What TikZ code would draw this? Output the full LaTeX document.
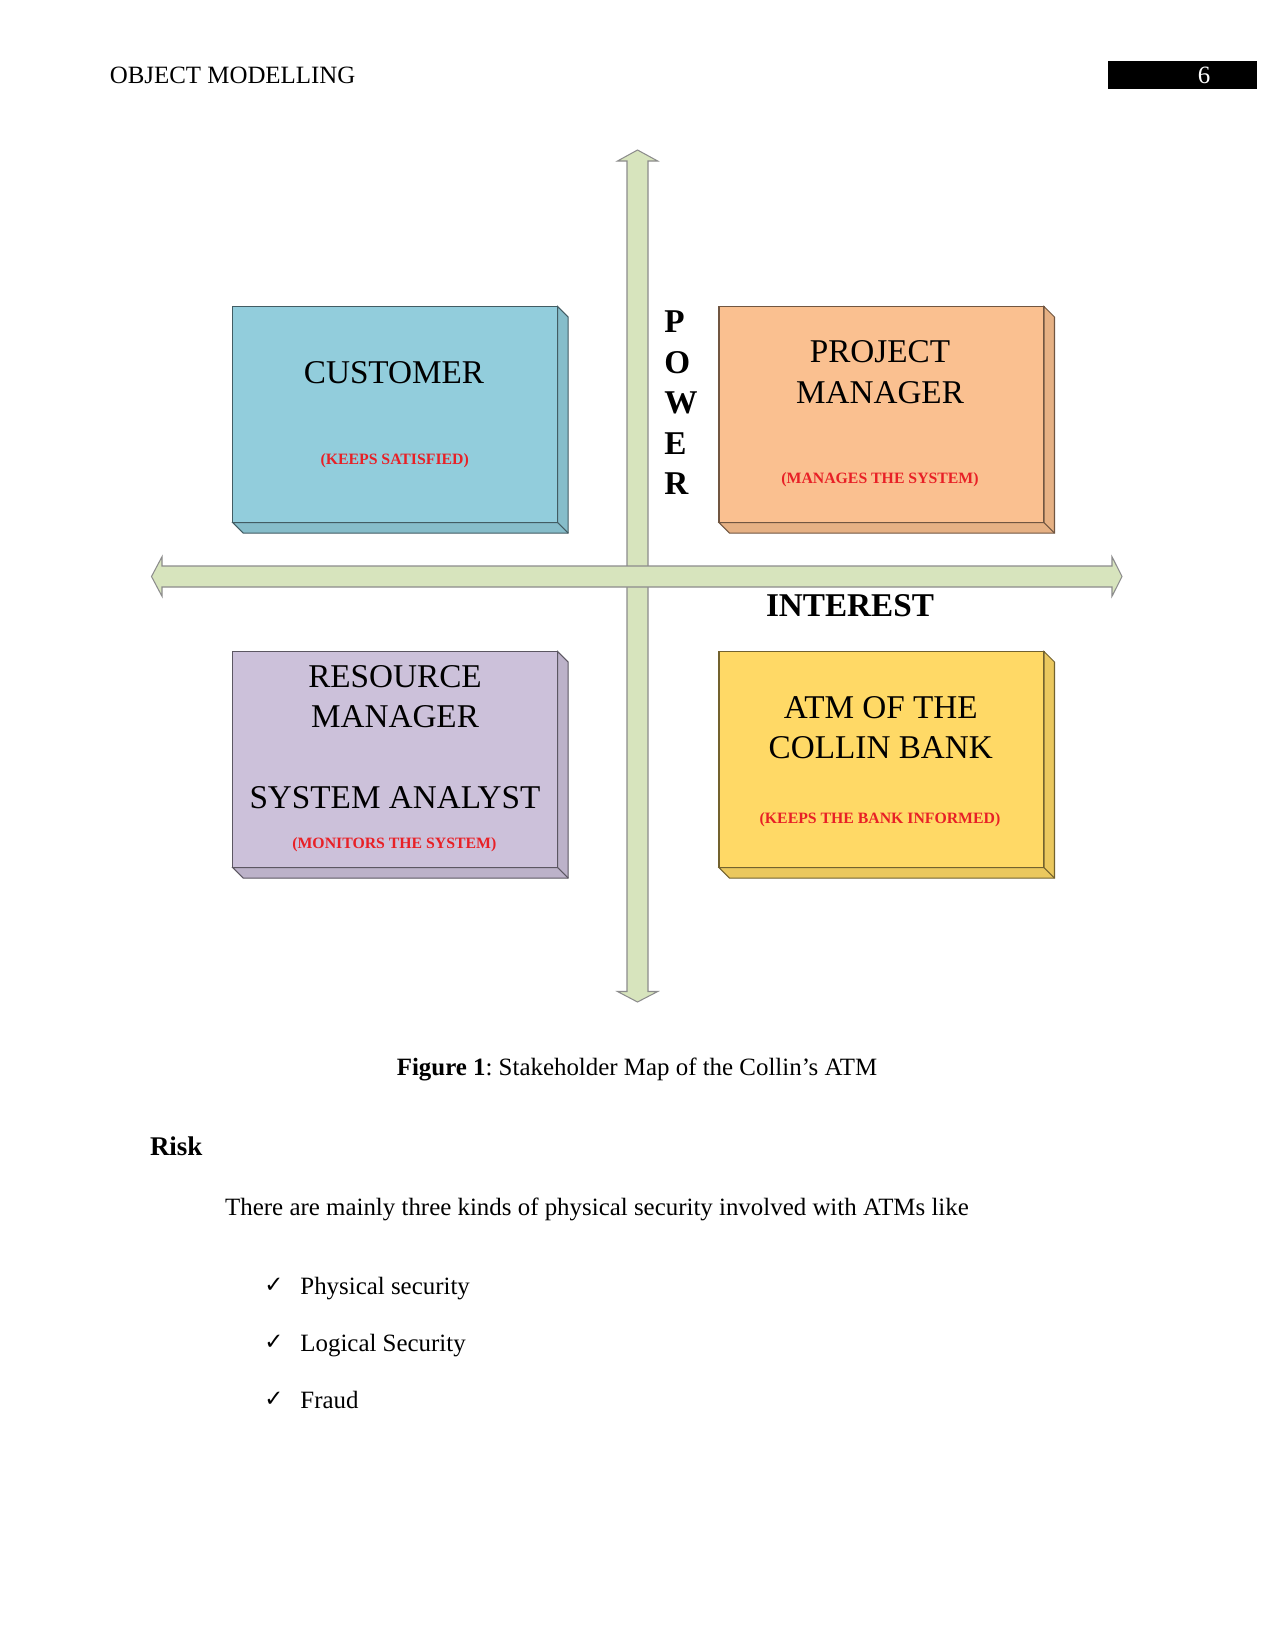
\documentclass[tikz,border=0pt]{standalone}
\usepackage{fontspec}
\setmainfont{Liberation Serif}
\newfontfamily\tickfont{DejaVu Sans}
\usetikzlibrary{calc}

\definecolor{custblue}{RGB}{146,205,220}
\definecolor{pmpeach}{RGB}{250,192,144}
\definecolor{rmlilac}{RGB}{204,193,218}
\definecolor{atmgold}{RGB}{255,217,102}
\definecolor{axisfill}{RGB}{215,228,189}
\definecolor{axisline}{RGB}{140,140,140}
\definecolor{notered}{RGB}{232,32,38}

\begin{document}
\begin{tikzpicture}[
  x=0.16933mm, y=-0.16933mm,
  quad/.style={draw=#1!45!black, fill=#1, line width=0.5pt, anchor=north west,
               inner sep=0pt, outer sep=0pt, minimum width=55.03mm, minimum height=36.6mm},
  face/.style={draw=#1!45!black, fill=#1!92!black, line width=0.5pt},
  axis/.style={draw=axisline, fill=axisfill, line width=0.5pt},
  who/.style={font=\fontsize{16}{18}\selectfont, align=center, inner sep=0pt},
  note/.style={font=\fontsize{7.6}{9}\selectfont\bfseries, text=notered, inner sep=0pt},
  axlbl/.style={font=\fontsize{16}{18}\selectfont\bfseries, inner sep=0pt},
  body/.style={font=\fontsize{12}{14}\selectfont\frenchspacing, inner sep=0pt, anchor=base west}
]
\useasboundingbox (0,0) rectangle (1275,1650);
\fill[white] (0,0) rectangle (1275,1650);

%% ---------- page header ----------
\node[body] (hdr) at (109.4,83) {OBJECT MODELLING};
\node[fill=black, anchor=north west, inner sep=0pt, minimum width=25.23mm,
      minimum height=4.6mm] (pgbox) at (1108,61) {};
\node[body, anchor=base, text=white] (pgno) at (1204,83) {6};

%% ---------- axes ----------
\filldraw[axis] (637.5,150) -- (657.7,161) -- (648,161) -- (648,991.5) -- (657.7,991.5)
  -- (637.5,1002) -- (617.5,991.5) -- (627,991.5) -- (627,161) -- (617.5,161) -- cycle;
\filldraw[axis] (151.5,576.5) -- (162,556.7) -- (162,566) -- (1112,566) -- (1112,556.7)
  -- (1122,576.5) -- (1112,596.3) -- (1112,587) -- (162,587) -- (162,596.3) -- cycle;

\foreach \l [count=\i] in {P,O,W,E,R}
  \node[axlbl, anchor=west] (pw\i) at (664,281.5+40.5*\i) {\l};
\node[axlbl] (interest) at (850,606) {INTEREST};

%% ---------- quadrants ----------
\node[quad=custblue] (cust) at (232.7,306.5) {};
\node[quad=pmpeach]  (pm)   at (719,306.5)   {};
\node[quad=rmlilac]  (rm)   at (232.7,651.5) {};
\node[quad=atmgold]  (atm)  at (719,651.5)   {};

\foreach \n/\c in {cust/custblue,pm/pmpeach,rm/rmlilac,atm/atmgold}{
  \filldraw[face=\c] (\n.north east) -- ++(10.5,10.5) -- ($(\n.south east)+(10.5,10.5)$)
    -- ($(\n.south west)+(10.5,10.5)$) -- (\n.south west) -- (\n.south east) -- cycle;
  \draw[draw=\c!45!black, line width=0.5pt] (\n.south east) -- ++(10.5,10.5);
}

\node[who] (custname) at (394,372.7) {CUSTOMER};
\node[note] (custnote) at (394.7,460.7) {(KEEPS SATISFIED)};

\node[who, font=\fontsize{16}{19.6}\selectfont] (pmname) at (880,372) {PROJECT\\MANAGER};
\node[note] (pmnote) at (880,480) {(MANAGES THE SYSTEM)};

\node[who, font=\fontsize{16}{19.4}\selectfont] (rmname) at (395,697) {RESOURCE\\MANAGER};
\node[who] (saname) at (395,797.5) {SYSTEM ANALYST};
\node[note] (rmnote) at (394.3,845) {(MONITORS THE SYSTEM)};

\node[who, font=\fontsize{16}{19.6}\selectfont] (atmname) at (880.8,727.5) {ATM OF THE\\COLLIN BANK};
\node[note] (atmnote) at (880,819.5) {(KEEPS THE BANK INFORMED)};

%% ---------- caption and text ----------
\node[body, anchor=base] (cap) at (637,1075)
  {\textbf{Figure 1}: Stakeholder Map of the Collin’s ATM};
\node[body, font=\fontsize{13}{15}\selectfont\bfseries] (risk) at (149.6,1155) {Risk};
\node[body] (intro) at (224.8,1215)
  {There are mainly three kinds of physical security involved with ATMs like};

\foreach \t [count=\i] in {Physical security, Logical Security, Fraud}{
  \node[body] (item\i) at (300,1237.3+57*\i) {\t};
  \node[body, font=\tickfont\bfseries\fontsize{11}{13}\selectfont] (tick\i) at (264,1235.3+57*\i) {✓};
}
\end{tikzpicture}
\end{document}
